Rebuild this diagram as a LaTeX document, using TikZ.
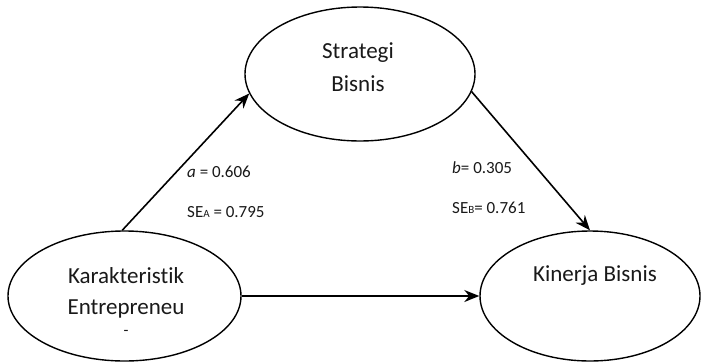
\documentclass[tikz,border=0pt]{standalone}
\usepackage{fontspec}
\setmainfont[Ligatures=NoCommon]{Carlito}
\usetikzlibrary{shapes.geometric,arrows.meta}
\begin{document}
\begin{tikzpicture}[x=1pt,y=-1pt,
  var/.style={draw=black,line width=1.4pt,ellipse,inner sep=0pt},
  big/.style={font=\fontsize{23}{27}\selectfont,text=black!90,inner sep=0pt},
  lab/.style={font=\fontsize{17}{20}\selectfont,text=black!90,inner sep=0pt,anchor=west},
  arr/.style={line width=1.6pt,-{Stealth[length=15pt,width=12pt]}}]
\useasboundingbox (0,0) rectangle (701,362);
\node[var,minimum width=230pt,minimum height=134pt] (S) at (360,74) {};
\node[var,minimum width=233pt,minimum height=130pt] (L) at (124.5,296) {};
\node[var,minimum width=220pt,minimum height=130pt] (R) at (590,296) {};
\node[big] (s1) at (358,53) {Strategi};
\node[big] (s2) at (358,84) {Bisnis};
\node[big] (l1) at (126,276) {Karakteristik};
\node[big] (l2) at (126,309) {Entrepreneu};
\node[font=\fontsize{16}{16}\selectfont,text=black!90,inner sep=0pt] (l3) at (126,333) {-};
\node[big] (r1) at (595,276) {Kinerja Bisnis};
\node[lab] (la) at (187,172) {\textit{a} = 0.606};
\node[lab] (lsa) at (187,212) {SE{\fontsize{11}{11}\selectfont A} = 0.795};
\node[lab] (lb) at (452,168) {\textit{b}= 0.305};
\node[lab] (lsb) at (452,208) {SE{\fontsize{11}{11}\selectfont B}= 0.761};
\draw[arr] (L.92) -- (S.190.5);
\draw[arr] (S.351.4) -- (R.north);
\draw[arr] (L.east) -- (R.west);
\end{tikzpicture}
\end{document}
